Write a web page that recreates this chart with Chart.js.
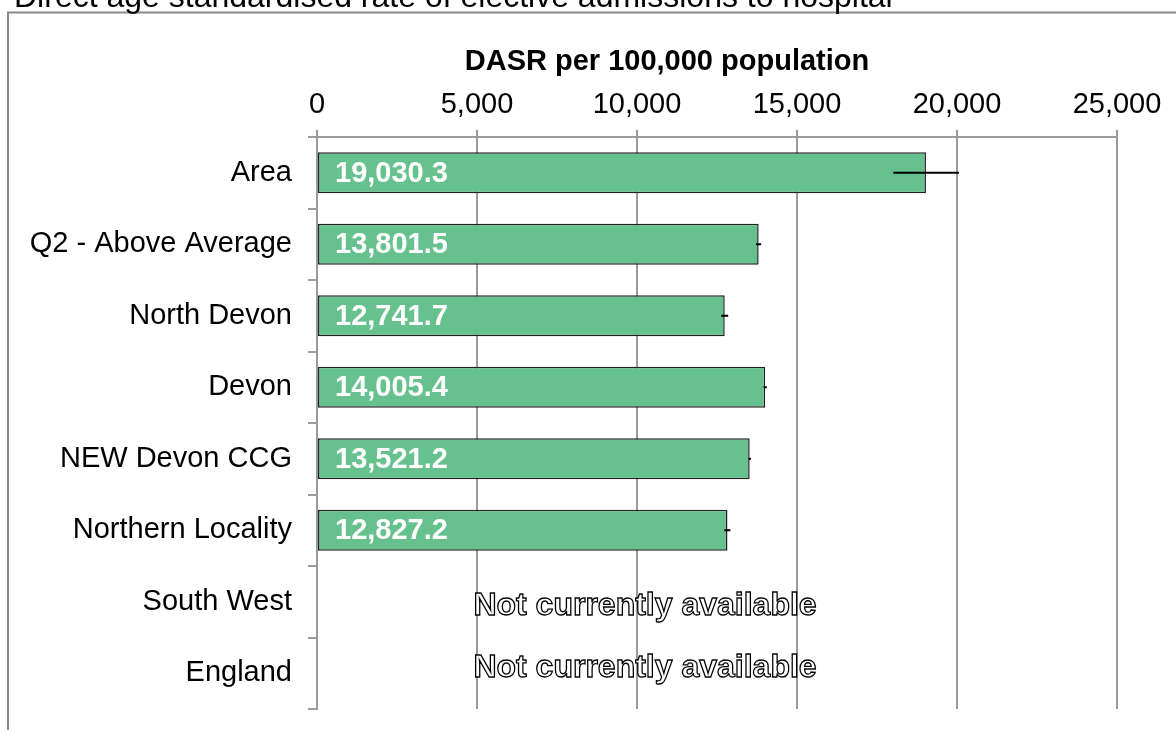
<!DOCTYPE html>
<html>
<head>
<meta charset="utf-8">
<script src="https://cdn.jsdelivr.net/npm/chart.js@4.4.1/dist/chart.umd.min.js"></script>
<style>
  html, body { margin:0; padding:0; background:#fff; overflow:hidden; }
  canvas { display:block; }
</style>
</head>
<body>
<canvas id="chart" width="1176" height="730"></canvas>
<script>
// Data
const areas  = ['Area', 'Q2 - Above Average', 'North Devon', 'Devon', 'NEW Devon CCG', 'Northern Locality', 'South West', 'England'];
const dasr   = [19030.3, 13801.5, 12741.7, 14005.4, 13521.2, 12827.2, null, null];
const ciLow  = [18010, 13720, 12630, 13955, 13480, 12730, null, null];
const ciHigh = [20060, 13880, 12850, 14055, 13560, 12920, null, null];
const xTicks = [0, 5000, 10000, 15000, 20000, 25000];

const chartTitle = 'Direct age standardised rate of elective admissions to hospital';
const axisTitle  = 'DASR per 100,000 population';
const naText     = 'Not currently available';

const FONT = "'Liberation Sans', Arial, sans-serif";
const fmt1 = v => v.toLocaleString('en-GB', {minimumFractionDigits:1, maximumFractionDigits:1});

// frame, headings, error bars, value labels
const decor = {
  id: 'decor',
  beforeDraw(chart){
    const ctx = chart.ctx;
    const area = chart.chartArea;
    ctx.save();
    ctx.fillStyle = '#fff';
    ctx.fillRect(0, 0, chart.width, chart.height);
    ctx.strokeStyle = '#8a8a8a';
    ctx.lineWidth = 2;
    ctx.strokeRect(8, 12.5, chart.width + 20, chart.height + 20);
    ctx.fillStyle = '#000';
    ctx.font = '32px ' + FONT;
    ctx.textBaseline = 'alphabetic';
    ctx.fillText(chartTitle, 14, 7);
    // axis title, sits a little left of the plot centre
    ctx.font = 'bold 29px ' + FONT;
    ctx.textAlign = 'center';
    ctx.textBaseline = 'middle';
    ctx.fillText(axisTitle, (area.left + area.right) / 2 - 50, 62);
    ctx.restore();
  },
  afterDatasetsDraw(chart){
    const ctx = chart.ctx;
    const xs = chart.scales.x, ys = chart.scales.y;
    const meta = chart.getDatasetMeta(0);
    ctx.save();
    // error bars
    ctx.strokeStyle = '#000';
    ctx.lineWidth = 2;
    ciLow.forEach((lo, i) => {
      if (lo == null) return;
      const y = meta.data[i].y;
      ctx.beginPath();
      ctx.moveTo(xs.getPixelForValue(lo), y);
      ctx.lineTo(xs.getPixelForValue(ciHigh[i]), y);
      ctx.stroke();
    });
    // values inside bars
    ctx.fillStyle = '#fff';
    ctx.font = 'bold 29px ' + FONT;
    ctx.textBaseline = 'middle';
    ctx.textAlign = 'left';
    dasr.forEach((v, i) => {
      if (v == null) return;
      ctx.fillText(fmt1(v), xs.getPixelForValue(0) + 18, meta.data[i].y + 1);
    });
    // missing rows
    ctx.font = 'bold 32px ' + FONT;
    ctx.textAlign = 'center';
    ctx.lineWidth = 1.3;
    ctx.strokeStyle = '#000';
    let k = 0;
    dasr.forEach((v, i) => {
      if (v != null) return;
      const x = xs.getPixelForValue(10250);
      const y = ys.getPixelForValue(i) + (k++ === 0 ? 4 : -5);
      ctx.fillStyle = '#fff';
      ctx.fillText(naText, x, y);
      ctx.strokeText(naText, x, y);
    });
    ctx.restore();
  }
};

new Chart(document.getElementById('chart'), {
  type: 'bar',
  data: {
    labels: areas,
    datasets: [{
      data: dasr,
      backgroundColor: '#66c18e',
      borderColor: '#222',
      borderWidth: 1.5,
      borderSkipped: false,
      barPercentage: 0.573,
      categoryPercentage: 1
    }]
  },
  options: {
    indexAxis: 'y',
    responsive: false,
    animation: false,
    devicePixelRatio: 1,
    layout: { padding: { left: 0, top: 0, right: 59, bottom: 21 } },
    plugins: { legend: { display: false }, tooltip: { enabled: false } },
    scales: {
      x: {
        type: 'linear',
        position: 'top',
        min: 0, max: 25000,
        afterBuildTicks: s => { s.ticks = xTicks.map(v => ({ value: v })); },
        afterFit: s => { s.height = 137; },
        ticks: {
          font: { family: FONT, size: 29 },
          color: '#000',
          padding: 8,
          maxRotation: 0,
          callback: v => v.toLocaleString('en-GB')
        },
        grid: { color: '#9a9a9a', lineWidth: 2, tickLength: 7 },
        border: { display: true, color: '#9a9a9a', width: 2 }
      },
      y: {
        type: 'category',
        afterFit: s => { s.width = 317; s.paddingTop = 0; s.paddingBottom = 0; },
        ticks: {
          font: { family: FONT, size: 29 },
          color: '#000',
          padding: 16
        },
        grid: { offset: true, drawOnChartArea: false, color: '#9a9a9a', lineWidth: 2, tickLength: 9 },
        border: { display: true, color: '#9a9a9a', width: 2 }
      }
    }
  },
  plugins: [decor]
});
</script>
</body>
</html>
